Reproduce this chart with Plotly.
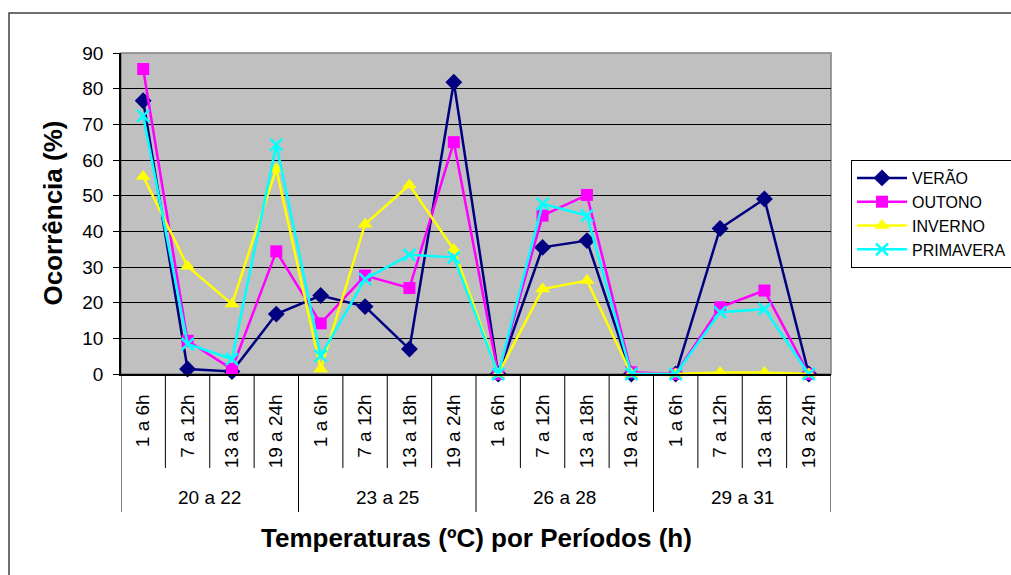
import plotly.graph_objects as go

# Temperature ranges (ºC) and daily periods (h)
faixas = ["20 a 22", "23 a 25", "26 a 28", "29 a 31"]
periodos = ["1 a 6h", "7 a 12h", "13 a 18h", "19 a 24h"]

# Occurrence (%) per season, one value per range/period combination
verao = [76.6, 1.4, 0.7, 16.8, 22.0, 18.9, 7.0, 81.8, 0.0, 35.5, 37.4, 0.0, 0.0, 40.8, 49.1, 0.0]
outono = [85.5, 9.3, 1.4, 34.4, 14.2, 27.6, 24.1, 65.0, 0.0, 44.4, 50.2, 0.5, 0.0, 18.7, 23.4, 0.0]
inverno = [55.4, 30.2, 19.6, 57.5, 1.4, 42.0, 53.0, 34.9, 0.0, 23.8, 26.2, 0.0, 0.0, 0.4, 0.4, 0.0]
primavera = [72.4, 8.4, 4.2, 64.3, 5.1, 26.6, 33.4, 32.7, 0.0, 47.7, 44.4, 0.0, 0.0, 17.3, 18.2, 0.0]

series = [
    ("VERÃO", verao, "#000080", "diamond", 13),
    ("OUTONO", outono, "#FF00FF", "square", 12),
    ("INVERNO", inverno, "#FFFF00", "triangle-up", 13),
    ("PRIMAVERA", primavera, "#00FFFF", "x-thin", 12),
]

n_per = len(periodos)
xs = list(range(len(faixas) * n_per))
tick_text = [p for _ in faixas for p in periodos]

fig = go.Figure()
for name, vals, color, symbol, size in series:
    marker = dict(symbol=symbol, size=size, color=color)
    if symbol == "x-thin":
        marker["line"] = dict(color=color, width=2.5)
    fig.add_trace(go.Scatter(
        x=xs, y=vals, name=name, mode="lines+markers",
        line=dict(color=color, width=2.5),
        marker=marker, cliponaxis=False,
    ))

# plot area geometry in pixels
W, H = 1011, 575
L, R, T, B = 121, 831, 53, 374
pw, ph = R - L, B - T

def py(pix):
    return (B - pix) / ph

def px(pix):
    return (pix - L) / pw

shapes = []
# category dividers below the axis
for k in range(len(xs) + 1):
    group_edge = k % n_per == 0
    shapes.append(dict(
        type="line", xref="x", yref="paper",
        x0=k - 0.5, x1=k - 0.5, y0=0, y1=py(512 if group_edge else 468),
        line=dict(color="black", width=1),
    ))
# outer chart frame
shapes.append(dict(
    type="rect", xref="paper", yref="paper",
    x0=px(9), x1=px(W + 10), y0=py(H + 10), y1=py(13),
    line=dict(color="#404040", width=1.5), layer="below",
))
# plot area border (top/right)
shapes.append(dict(
    type="rect", xref="paper", yref="paper", x0=0, x1=1, y0=0, y1=1,
    line=dict(color="#808080", width=1.5), layer="below",
))

annotations = []
for g, faixa in enumerate(faixas):
    annotations.append(dict(
        x=g * n_per + (n_per - 1) / 2, y=py(497), xref="x", yref="paper",
        text=faixa, showarrow=False, font=dict(size=19, color="black"),
        xanchor="center", yanchor="middle",
    ))
annotations.append(dict(
    x=px((L + R) / 2), y=py(538), xref="paper", yref="paper",
    text="<b>Temperaturas (ºC) por Períodos (h)</b>", showarrow=False,
    font=dict(size=26, color="black"), xanchor="center", yanchor="middle",
))
annotations.append(dict(
    x=px(52), y=py((T + B) / 2), xref="paper", yref="paper",
    text="<b>Ocorrência (%)</b>", showarrow=False, textangle=-90,
    font=dict(size=26, color="black"), xanchor="center", yanchor="middle",
))

fig.update_layout(
    width=W, height=H,
    margin=dict(l=L, r=W - R, t=T, b=H - B, autoexpand=False),
    paper_bgcolor="white", plot_bgcolor="#C0C0C0",
    font=dict(family="Liberation Sans, Arial, sans-serif", color="black"),
    showlegend=True,
    legend=dict(
        x=px(851), y=py(160), xanchor="left", yanchor="top",
        bgcolor="white", bordercolor="black", borderwidth=1,
        font=dict(size=16, color="black"), tracegroupgap=0,
        itemwidth=50,
    ),
    shapes=shapes, annotations=annotations,
)
fig.update_xaxes(
    range=[-0.5, len(xs) - 0.5], tickmode="array", tickvals=xs, ticktext=tick_text,
    tickangle=-90, tickfont=dict(size=19), ticks="", showgrid=False,
    zeroline=False, showline=True, linecolor="black", linewidth=1.5,
    ticklabelstandoff=11,
)
fig.update_yaxes(
    range=[0, 90], dtick=10, tickfont=dict(size=19), ticks="outside", ticklen=6,
    tickcolor="black", showgrid=True, gridcolor="black", gridwidth=1,
    zeroline=False, showline=True, linecolor="black", linewidth=1.5,
    ticklabelstandoff=6,
)

fig.write_html("out.html")
